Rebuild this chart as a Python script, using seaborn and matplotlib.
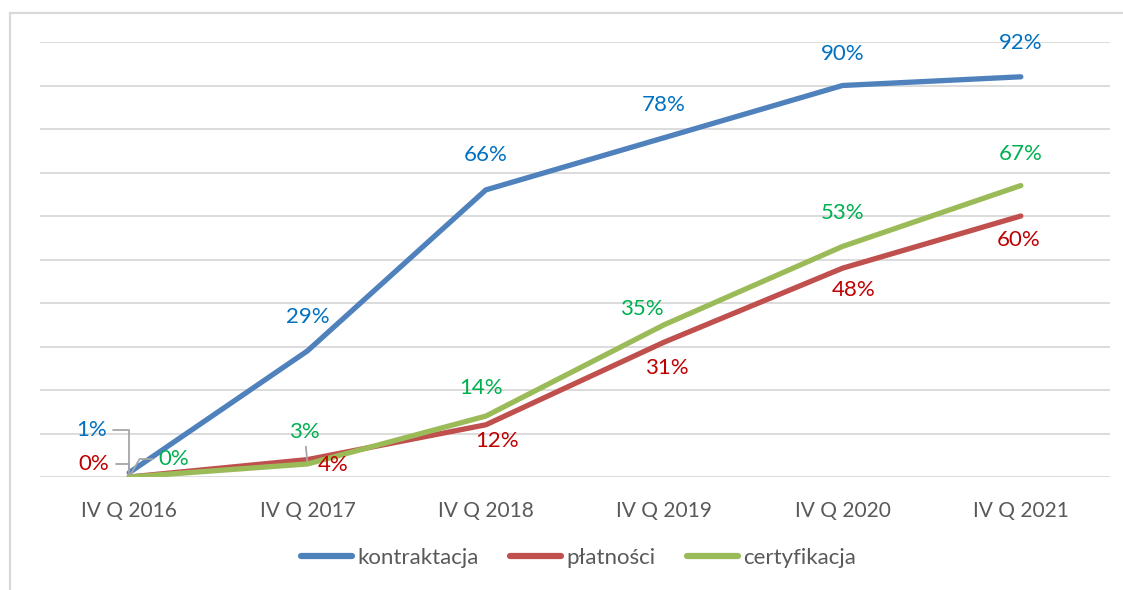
import matplotlib
matplotlib.use("Agg")
import matplotlib.pyplot as plt
from matplotlib.lines import Line2D
import seaborn as sns
import pandas as pd

# --- data -------------------------------------------------------------
quarters = ["IV Q 2016", "IV Q 2017", "IV Q 2018", "IV Q 2019", "IV Q 2020", "IV Q 2021"]
series_names = ["kontraktacja", "płatności", "certyfikacja"]
kontraktacja = [1, 29, 66, 78, 90, 92]
platnosci = [0, 4, 12, 31, 48, 60]
certyfikacja = [0, 3, 14, 35, 53, 67]

values = {
    "kontraktacja": kontraktacja,
    "płatności": platnosci,
    "certyfikacja": certyfikacja,
}

# --- styling ----------------------------------------------------------
line_colors = {"kontraktacja": "#4F81BD", "płatności": "#C0504D", "certyfikacja": "#9BBB59"}
label_colors = {"kontraktacja": "#0070C0", "płatności": "#C00000", "certyfikacja": "#00B050"}
grey_text = "#595959"
grid_grey = "#D9D9D9"
leader_grey = "#A6A6A6"

# label offsets in pixels (dx, dy) relative to each point
label_offsets = {
    "kontraktacja": [(-38, 43), (0, 34), (0, 35), (0, 33), (0, 31), (0, 34)],
    "płatności": [(-35, 13), (26, -5), (11, -16), (3, -26), (11, -22), (-2, -24)],
    "certyfikacja": [(45, 18), (-3, 32), (-5, 28), (-22, 16), (0, 33), (0, 32)],
}

sns.set_theme(style="white")
plt.rcParams["font.family"] = ["Lato", "DejaVu Sans"]

rows = []
for name in series_names:
    for q, v in zip(quarters, values[name]):
        rows.append({"kwartał": q, "seria": name, "wartość": v / 100})
df = pd.DataFrame(rows)

fig = plt.figure(figsize=(11.23, 5.9), dpi=100)
W, H = 1123, 590
ax = fig.add_axes([40 / W, 1 - 477 / H, 1070 / W, 435 / H])

sns.lineplot(
    data=df, x="kwartał", y="wartość", hue="seria", palette=line_colors,
    hue_order=series_names, sort=False, linewidth=3.8, ax=ax, legend=False,
    zorder=3,
)
for ln in ax.lines:
    ln.set_solid_capstyle("round")
    ln.set_solid_joinstyle("round")

ax.set_xlim(-0.5, len(quarters) - 0.5)
ax.set_ylim(0, 1)
ax.set_yticks([i / 10 for i in range(11)])
ax.set_yticklabels([])
ax.yaxis.grid(True, color=grid_grey, linewidth=1.3, zorder=0)
ax.set_axisbelow(True)
for s in ax.spines.values():
    s.set_visible(False)
ax.set_xlabel("")
ax.set_ylabel("")
ax.tick_params(axis="x", length=0, pad=17, labelsize=15, labelcolor=grey_text)
ax.tick_params(axis="y", length=0)

# data labels
for name in series_names:
    for i, v in enumerate(values[name]):
        dx, dy = label_offsets[name][i]
        arrow = None
        if i == 0:
            if name == "certyfikacja":
                arrow = dict(arrowstyle="-", color=leader_grey, lw=1.3, shrinkA=2, shrinkB=2,
                             relpos=(0, 0.5),
                             connectionstyle="angle,angleA=0,angleB=60,rad=0")
            else:
                arrow = dict(arrowstyle="-", color=leader_grey, lw=1.3, shrinkA=2, shrinkB=2,
                             relpos=(1, 0.5),
                             connectionstyle="angle,angleA=0,angleB=90,rad=0")
        elif name == "certyfikacja" and i == 1:
            arrow = dict(arrowstyle="-", color=leader_grey, lw=1.3, shrinkA=1, shrinkB=2)
        ax.annotate(
            f"{v}%", xy=(i, v / 100), xytext=(dx, dy), textcoords="offset pixels",
            ha="center", va="center", fontsize=16, color=label_colors[name],
            arrowprops=arrow, zorder=5,
        )

# legend
handles = [
    Line2D([0], [0], color=line_colors[n], linewidth=4.5, solid_capstyle="round")
    for n in series_names
]
leg = fig.legend(
    handles, series_names, loc="center", bbox_to_anchor=(0.515, 1 - 558 / H),
    ncol=3, frameon=False, fontsize=16, handlelength=2.3, handletextpad=0.25,
    columnspacing=1.4,
)
for t in leg.get_texts():
    t.set_color(grey_text)

# chart border (top and left)
fig.add_artist(Line2D([10 / W, 1], [1 - 13 / H, 1 - 13 / H], transform=fig.transFigure,
                      color=grid_grey, linewidth=1.6))
fig.add_artist(Line2D([10 / W, 10 / W], [0, 1 - 13 / H], transform=fig.transFigure,
                      color=grid_grey, linewidth=1.6))

fig.savefig("out.png", dpi=100, facecolor="white")
